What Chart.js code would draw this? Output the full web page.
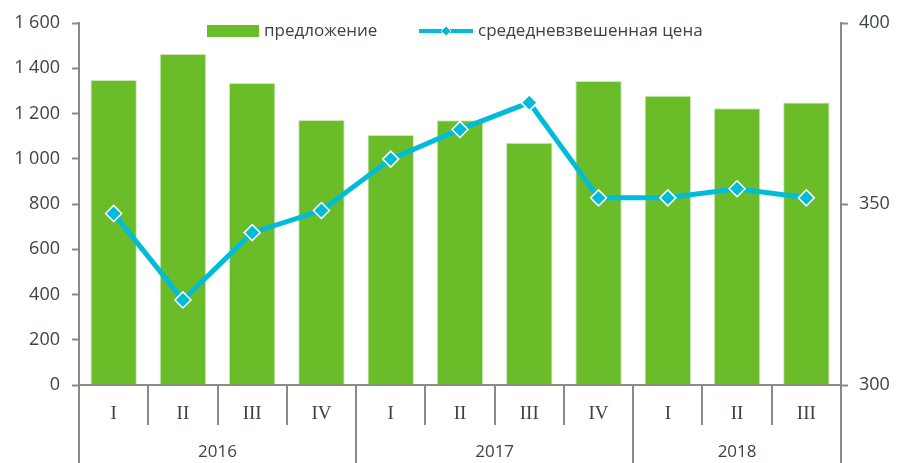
<!DOCTYPE html>
<html>
<head>
<meta charset="utf-8">
<script src="https://cdn.jsdelivr.net/npm/chart.js@4/dist/chart.umd.min.js"></script>
<style>
  html, body { margin: 0; padding: 0; background: #fff; }
  #wrap { width: 902px; height: 463px; }
</style>
</head>
<body>
<div id="wrap"><canvas id="chart"></canvas></div>
<script>
// data
const quarters = ['I', 'II', 'III', 'IV', 'I', 'II', 'III', 'IV', 'I', 'II', 'III']
const years = ['2016', '2017', '2018']
const yearSpans = [4, 4, 3]
const supply = [1348, 1463, 1335, 1171, 1105, 1170, 1071, 1344, 1279, 1223, 1249]
const price = [347.4, 323.5, 342.1, 348.2, 362.4, 370.6, 378.0, 351.7, 351.7, 354.2, 351.7]
const supplyLabel = 'предложение'
const priceLabel = 'средедневзвешенная цена'

const GREEN = '#6abd29'
const CYAN = '#00bcd9'
const GRAY = '#8a8a8a'
const TEXT = '#3c4442'
const FONT = "'Open Sans', sans-serif"

const fmt = v => String(v).replace(/\B(?=(\d{3})+$)/g, ' ')

// separators, year row and legend
const decor = {
    id: 'decor',
    afterDraw(chart) {
        const { ctx, chartArea: a, scales: { x } } = chart
        const H = chart.height
        const edge = i => x.getPixelForValue(i - 0.5)
        ctx.save()
        ctx.strokeStyle = GRAY
        ctx.lineWidth = 2

        const yearEdges = [0]
        yearSpans.forEach(n => yearEdges.push(yearEdges[yearEdges.length - 1] + n))
        for (let i = 0; i <= quarters.length; i++) {
            const px = Math.round(edge(i))
            const long = yearEdges.includes(i)
            ctx.beginPath()
            ctx.moveTo(px, a.bottom)
            ctx.lineTo(px, long ? H : a.bottom + 40)
            ctx.stroke()
        }

        ctx.fillStyle = TEXT
        ctx.font = `17px ${FONT}`
        ctx.textAlign = 'center'
        ctx.textBaseline = 'middle'
        years.forEach((y, k) => {
            const cx = (edge(yearEdges[k]) + edge(yearEdges[k + 1])) / 2
            ctx.fillText(y, cx, 452)
        })

        // legend
        const ly = 31
        ctx.fillStyle = GREEN
        ctx.fillRect(207, 25, 52, 12)
        ctx.fillStyle = TEXT
        ctx.textAlign = 'left'
        ctx.fillText(supplyLabel, 264, ly)
        ctx.strokeStyle = CYAN
        ctx.lineWidth = 4
        ctx.beginPath()
        ctx.moveTo(419, ly)
        ctx.lineTo(473, ly)
        ctx.stroke()
        ctx.fillStyle = CYAN
        ctx.strokeStyle = '#fff'
        ctx.lineWidth = 1
        ctx.beginPath()
        ctx.moveTo(446, ly - 5); ctx.lineTo(451, ly); ctx.lineTo(446, ly + 5); ctx.lineTo(441, ly)
        ctx.closePath()
        ctx.fill(); ctx.stroke()
        ctx.fillStyle = TEXT
        ctx.fillText(priceLabel, 478, ly)
        ctx.restore()
    }
}

new Chart(document.getElementById('chart'), {
    data: {
        labels: quarters,
        datasets: [
            {
                type: 'line',
                label: priceLabel,
                data: price,
                yAxisID: 'y1',
                order: 0,
                borderColor: CYAN,
                borderWidth: 5,
                pointStyle: 'rectRot',
                pointRadius: 8,
                pointBackgroundColor: CYAN,
                pointBorderColor: '#fff',
                pointBorderWidth: 1.5,
                tension: 0,
            },
            {
                type: 'bar',
                label: supplyLabel,
                data: supply,
                yAxisID: 'y',
                order: 1,
                backgroundColor: GREEN,
                borderColor: '#cfe8bb',
                borderWidth: 1,
                categoryPercentage: 0.67,
                barPercentage: 1,
            },
        ],
    },
    options: {
        responsive: true,
        maintainAspectRatio: false,
        animation: false,
        layout: { padding: { top: 23, left: 0, right: 0, bottom: 0 } },
        plugins: { legend: { display: false }, tooltip: { enabled: false } },
        scales: {
            x: {
                offset: true,
                grid: { display: false, drawTicks: false },
                border: { color: GRAY, width: 2 },
                ticks: {
                    color: TEXT,
                    font: { family: "'Liberation Serif', serif", size: 19 },
                    padding: 18,
                    maxRotation: 0,
                },
                afterFit: s => { s.height = 78 },
            },
            y: {
                position: 'left',
                min: 0,
                max: 1600,
                grid: { drawOnChartArea: false, tickLength: 7, tickWidth: 2, color: GRAY },
                border: { color: GRAY, width: 2 },
                ticks: {
                    stepSize: 200,
                    color: TEXT,
                    font: { family: FONT, size: 18 },
                    padding: 12,
                    callback: v => fmt(v),
                },
                afterFit: s => { s.width = 79 },
            },
            y1: {
                position: 'right',
                min: 300,
                max: 400,
                grid: { drawOnChartArea: false, tickLength: 7, tickWidth: 2, color: GRAY },
                border: { color: GRAY, width: 2 },
                ticks: {
                    stepSize: 50,
                    color: TEXT,
                    font: { family: FONT, size: 18 },
                    padding: 11,
                },
                afterFit: s => { s.width = 61 },
            },
        },
    },
    plugins: [decor],
})
</script>
</body>
</html>
